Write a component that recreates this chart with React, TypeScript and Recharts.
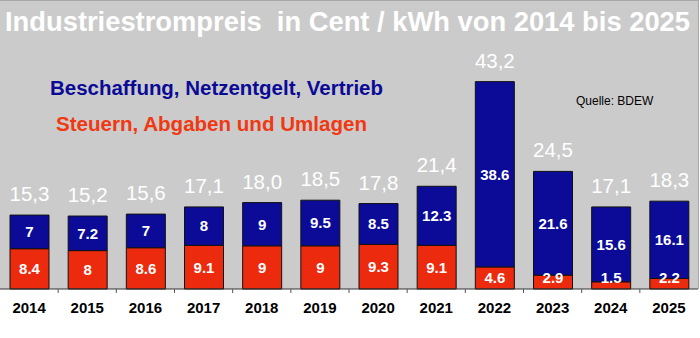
import { BarChart, Bar, XAxis, YAxis, LabelList } from "recharts";

const years = ["2014", "2015", "2016", "2017", "2018", "2019", "2020", "2021", "2022", "2023", "2024", "2025"];
// Steuern, Abgaben und Umlagen (bottom, red)
const steuern = [8.4, 8, 8.6, 9.1, 9, 9, 9.3, 9.1, 4.6, 2.9, 1.5, 2.2];
// Beschaffung, Netzentgelt, Vertrieb (top, blue)
const beschaffung = [7, 7.2, 7, 8, 9, 9.5, 8.5, 12.3, 38.6, 21.6, 15.6, 16.1];
// totals as printed above the bars
const totals = ["15,3", "15,2", "15,6", "17,1", "18,0", "18,5", "17,8", "21,4", "43,2", "24,5", "17,1", "18,3"];

const RED = "#ec2a0e";
const BLUE = "#0b0b98";
const FONT = "'Liberation Sans', Arial, sans-serif";
const CHART_W = 700;
const PLOT_W = 698;

const data = years.map((year, i) => ({
  year,
  steuern: steuern[i],
  beschaffung: beschaffung[i],
  total: totals[i],
}));

// red segment labels: centered, but never lower than 12px above the base
const RedLabel = (props: any) => {
  const { x, y, width, height, value } = props;
  const cx = Number(x) + Number(width) / 2;
  const cy = Math.min(Number(y) + Number(height) / 2, Number(y) + Number(height) - 12);
  return (
    <text x={cx} y={cy} textAnchor="middle" dominantBaseline="central" fill="#fff" fontSize={15} fontWeight="bold" fontFamily={FONT}>
      {value}
    </text>
  );
};

// year label plus a small tick on the boundary to the next category
const YearTick = (props: any) => {
  const { x, y, payload, index } = props;
  const half = PLOT_W / years.length / 2;
  return (
    <g>
      {index < years.length - 1 && (
        <line x1={x + half} x2={x + half} y1={y} y2={y + 4} stroke="#555" />
      )}
      <text x={x} y={y + 24} textAnchor="middle" fill="#000" fontSize={15} fontWeight="bold" fontFamily={FONT}>
        {payload.value}
      </text>
    </g>
  );
};

export default function App() {
  return (
    <div style={{ position: "absolute", left: 0, top: 0, width: CHART_W, height: 338, background: "#fff", fontFamily: FONT }}>
      <div
        style={{
          position: "absolute", left: 0, top: 0, width: 699, height: 289,
          background: "#cbcbcb", borderTop: "1px solid #a8a8a8", borderRight: "1px solid #a8a8a8", boxSizing: "border-box",
        }}
      />
      <div style={{ position: "absolute", left: 0, top: 0 }}>
        <BarChart width={CHART_W} height={338} data={data} margin={{ top: 73, right: CHART_W - PLOT_W, left: 0, bottom: 19 }} barSize={39}>
          <XAxis dataKey="year" tickLine={false} axisLine={{ stroke: "#333" }} height={30} tickSize={0} tickMargin={0}
            tick={<YearTick />} interval={0} />
          <YAxis hide domain={[0, 45]} />
          <Bar dataKey="steuern" stackId="a" fill={RED} stroke="#111" strokeWidth={1} isAnimationActive={false}>
            <LabelList dataKey="steuern" content={<RedLabel />} />
          </Bar>
          <Bar dataKey="beschaffung" stackId="a" fill={BLUE} stroke="#111" strokeWidth={1} isAnimationActive={false}>
            <LabelList dataKey="beschaffung" position="center" fill="#fff" fontSize={15} fontWeight="bold" fontFamily={FONT} />
            <LabelList dataKey="total" position="top" offset={14} fill="#fff" fontSize={20.5} fontFamily={FONT} />
          </Bar>
        </BarChart>
      </div>
      <svg width={CHART_W} height={338} style={{ position: "absolute", left: 0, top: 0, pointerEvents: "none", whiteSpace: "pre" }}>
        <text x={5} y={31} fill="#fff" fontSize={27} fontWeight="bold" fontFamily={FONT} textLength={685} lengthAdjust="spacingAndGlyphs" xmlSpace="preserve">
          {"Industriestrompreis  in Cent / kWh von 2014 bis 2025"}
        </text>
        <text x={50} y={95} fill="#0a0a96" fontSize={20} fontWeight="bold" fontFamily={FONT} textLength={333} lengthAdjust="spacingAndGlyphs">
          Beschaffung, Netzentgelt, Vertrieb
        </text>
        <text x={56} y={131} fill="#f03812" fontSize={20} fontWeight="bold" fontFamily={FONT} textLength={311} lengthAdjust="spacingAndGlyphs">
          Steuern, Abgaben und Umlagen
        </text>
        <text x={576} y={105} fill="#000" fontSize={12} fontFamily={FONT}>
          Quelle: BDEW
        </text>
      </svg>
    </div>
  );
}
